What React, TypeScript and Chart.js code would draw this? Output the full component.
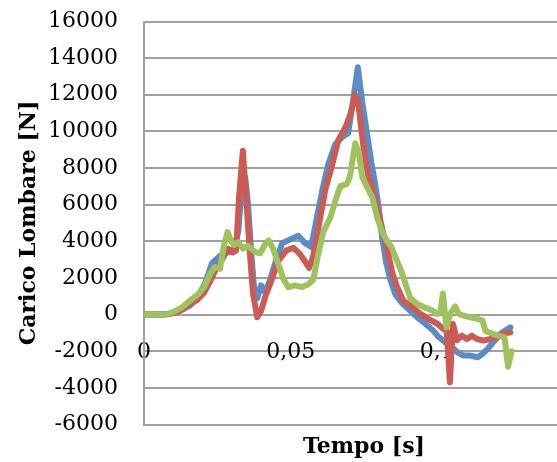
import React, { useEffect, useRef } from 'react';
import { Chart, registerables } from 'chart.js';
Chart.register(...registerables);

const blueT = [0,0.0055,0.0089,0.0123,0.0157,0.0184,0.0208,0.0232,0.0259,0.0283,0.0304,0.0321,0.0334,0.0345,0.0355,0.0365,0.0375,0.0386,0.0399,0.0413,0.0430,0.0451,0.0471,0.0498,0.0526,0.0549,0.0570,0.0587,0.0608,0.0628,0.0652,0.0676,0.0696,0.0713,0.0729,0.0744,0.0761,0.0775,0.0786,0.0799,0.0812,0.0826,0.0840,0.0857,0.0881,0.0901,0.0932,0.0959,0.0986,0.1003,0.1027,0.1051,0.1068,0.1089,0.1113,0.1137,0.1154,0.1171,0.1191,0.1215,0.1232,0.1249];
const blueV = [0,0,50,200,500,1000,1700,2800,3200,3400,3400,4500,7000,7500,6000,3500,1500,900,1600,1200,1900,3000,3900,4100,4300,3900,3700,5100,6800,8200,9300,9700,9900,11700,13500,11600,9800,8300,7300,6000,4200,2800,1900,1100,600,300,-150,-500,-870,-1200,-1500,-1800,-2050,-2240,-2240,-2330,-2150,-1880,-1500,-1050,-870,-700];

const redT = [0,0.0072,0.0106,0.0133,0.0157,0.0181,0.0205,0.0225,0.0246,0.0266,0.0287,0.0304,0.0314,0.0324,0.0337,0.0348,0.0362,0.0372,0.0386,0.0399,0.0416,0.0433,0.0457,0.0485,0.0509,0.0532,0.0549,0.0563,0.0577,0.0601,0.0618,0.0642,0.0662,0.0686,0.0703,0.0720,0.0730,0.0747,0.0765,0.0782,0.0799,0.0816,0.0833,0.0846,0.0863,0.0884,0.0915,0.0942,0.0969,0.1000,0.1017,0.1032,0.1043,0.1053,0.1067,0.1084,0.1101,0.1118,0.1135,0.1157,0.1181,0.1205,0.1222,0.1249];
const redV = [0,0,100,300,550,800,1200,1800,2500,3000,3600,3400,3500,6400,8950,6400,3100,1100,-150,200,1100,1800,2900,3500,3650,3300,2900,2550,3200,5300,6800,8200,9500,10200,10900,12000,11600,9300,7500,6700,5600,4400,3300,2300,1500,760,400,40,-230,-500,-750,-900,-3700,-500,-1400,-1150,-1330,-1150,-1330,-1420,-1330,-1240,-1050,-970];

const greenT = [0,0.0072,0.0099,0.0130,0.0157,0.0184,0.0205,0.0225,0.0242,0.0259,0.0273,0.0285,0.0297,0.0307,0.0321,0.0338,0.0355,0.0369,0.0382,0.0396,0.0413,0.0425,0.0440,0.0457,0.0474,0.0491,0.0515,0.0539,0.0560,0.0577,0.0594,0.0611,0.0635,0.0652,0.0669,0.0693,0.0703,0.0720,0.0732,0.0744,0.0761,0.0778,0.0795,0.0812,0.0829,0.0843,0.0857,0.0874,0.0891,0.0908,0.0932,0.0955,0.0983,0.1000,0.1010,0.1019,0.1031,0.1044,0.1061,0.1072,0.1089,0.1113,0.1137,0.1154,0.1164,0.1188,0.1208,0.1229,0.1241,0.1253];
const greenV = [0,0,130,400,760,1100,1500,2200,2600,2500,3800,4500,4000,3800,3950,3600,3750,3550,3400,3350,3850,4050,3600,2800,2000,1500,1600,1500,1650,1900,3300,4500,5300,6200,7000,7150,7600,9350,8900,7500,6950,6400,5300,4500,4000,3700,3150,2500,1700,900,580,400,220,40,100,1150,-700,40,450,40,-50,-150,-230,-330,-900,-1050,-1150,-1240,-2850,-2000];

const xTickValues = [0, 0.05, 0.1];
const yMin = -6000;
const yMax = 16000;
const yStep = 2000;

const GRID = '#a0a0a0';
const FONT = "'DejaVu Serif', serif";

export default function App() {
  const ref = useRef<HTMLCanvasElement>(null);
  useEffect(() => {
    const pts = (t: number[], v: number[]) => t.map((x, i) => ({ x, y: v[i] }));
    const common = { pointRadius: 0, borderWidth: 6, tension: 0, borderJoinStyle: 'round' as const, borderCapStyle: 'round' as const, fill: false };
    const chart = new Chart(ref.current!, {
      type: 'line',
      data: {
        datasets: [
          { ...common, label: 'Serie1', data: pts(blueT, blueV), borderColor: '#5A8DC8', order: 3 },
          { ...common, label: 'Serie2', data: pts(redT, redV), borderColor: '#CC5B56', order: 2 },
          { ...common, label: 'Serie3', data: pts(greenT, greenV), borderColor: '#A0C25E', order: 1 },
        ],
      },
      options: {
        animation: false,
        responsive: true,
        maintainAspectRatio: false,
        layout: { padding: { left: 0, right: 2, top: 21.5, bottom: 37.5 } },
        plugins: { legend: { display: false }, tooltip: { enabled: false } },
        scales: {
          x: {
            type: 'linear',
            min: 0,
            max: 0.15,
            position: { y: 0 } as any,
            grid: { display: true, color: 'rgba(0,0,0,0)', drawTicks: false },
            border: { display: true, color: GRID, width: 2 },
            afterBuildTicks: (scale: any) => {
              scale.ticks = xTickValues.map((v) => ({ value: v }));
            },
            afterFit: (scale: any) => {
              scale.paddingLeft = 0;
              scale.paddingRight = 0;
            },
            ticks: {
              padding: 24,
              color: '#000',
              font: { family: FONT, size: 22 },
              maxRotation: 0,
              autoSkip: false,
              callback: (v: any) => String(v).replace('.', ','),
            },
            title: {
              display: true,
              text: 'Tempo [s]',
              color: '#000',
              font: { family: FONT, size: 22, weight: 'bold' },
              padding: { top: 45, bottom: 0 },
            },
          },
          y: {
            type: 'linear',
            min: yMin,
            max: yMax,
            position: 'left',
            afterFit: (scale: any) => {
              scale.width = 144;
              scale.paddingTop = 0;
              scale.paddingBottom = 0;
            },
            grid: { color: GRID, lineWidth: 2, drawTicks: false },
            border: { display: true, color: GRID, width: 2 },
            ticks: {
              stepSize: yStep,
              padding: 26,
              color: '#000',
              font: { family: FONT, size: 22 },
              callback: (v: any) => String(v),
            },
            title: {
              display: true,
              text: 'Carico Lombare [N]',
              color: '#000',
              font: { family: FONT, size: 22, weight: 'bold' },
              padding: { top: 16, bottom: 0 },
            },
          },
        },
      },
    });
    return () => chart.destroy();
  }, []);
  return (
    <div style={{ position: 'fixed', left: 0, top: 0, width: 557, height: 462, overflow: 'hidden', background: '#fff' }}>
      <div style={{ position: 'relative', width: 586, height: 462 }}>
        <canvas ref={ref} />
      </div>
    </div>
  );
}
